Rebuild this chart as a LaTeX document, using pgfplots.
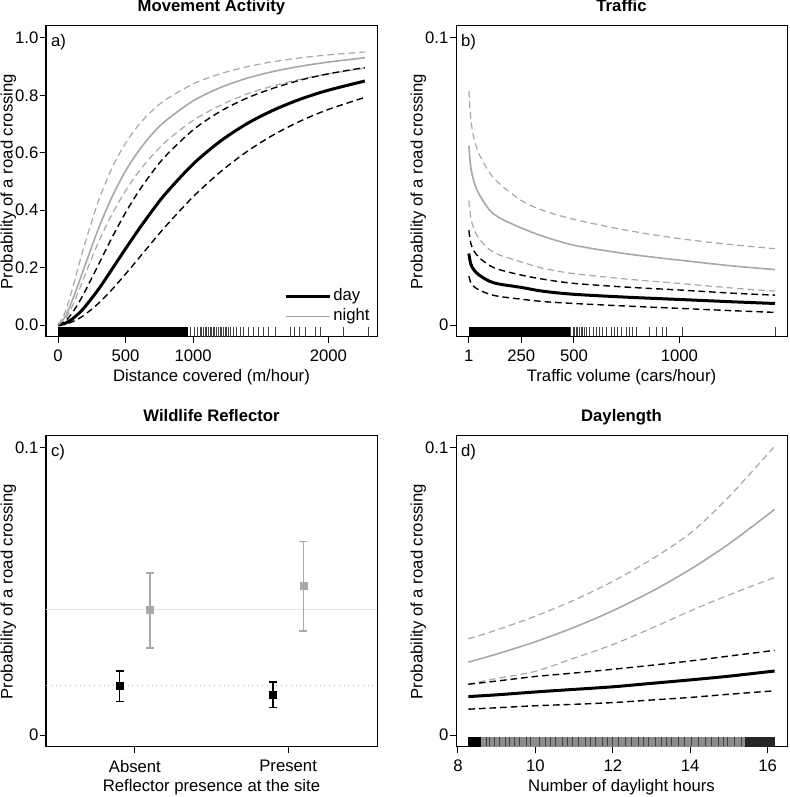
\documentclass[border=0pt]{standalone}
\usepackage{fontspec}
\setmainfont{Liberation Sans}
\usepackage{pgfplots}
\usepackage{pgfplotstable}
\pgfplotsset{compat=1.18}
\definecolor{rgray}{gray}{0.66}
\definecolor{hlgray}{gray}{0.9}
\newcommand{\rfont}{\fontsize{8.35pt}{10pt}\selectfont}
\pgfplotsset{
 rstyle/.style={
  scale only axis, width=165.5pt, height=155.5pt,
  axis line style={line width=0.5pt},
  tick align=outside, tick pos=left,
  major tick length=3pt,
  every tick/.append style={black, line width=0.5pt},
  font=\rfont,
  tick label style={font=\rfont},
  /pgf/number format/assume math mode=true,
  /pgf/number format/1000 sep={},
  yticklabel style={inner sep=0.6pt},
  xlabel style={at={(axis description cs:0.5,-0.128)}, anchor=center},
  ylabel style={at={(axis description cs:-0.114,0.5)}, anchor=center},
  title style={at={(axis description cs:0.5,1)}, anchor=base, yshift=1pt, font=\rfont\bfseries},
  ylabel={Probability of a road crossing},
 },
 dayci/.style={black, line width=0.7pt, dash pattern=on 3.3pt off 2pt},
 nightci/.style={rgray, line width=0.6pt, dash pattern=on 3.3pt off 2pt},
 daymid/.style={black, line width=1.5pt},
 nightmid/.style={rgray, line width=0.8pt},
 rug/.style={only marks, mark=|, mark options={line width=0.4pt, black!75}},
}
\pgfplotstableread{
x     dlo     d      dhi    nlo    n      nhi
0     0       0      0      0      0      0
50    0.0027  0.0055 0.0121 0.018  0.0271 0.0417
100   0.0101  0.0191 0.0389 0.060  0.0790 0.1167
150   0.0215  0.039  0.0751 0.115  0.142  0.2017
200   0.0366  0.064  0.1175 0.175  0.208  0.286
300   0.0758  0.125  0.211  0.290  0.337  0.433
400   0.124   0.195  0.305  0.386  0.447  0.548
500   0.178   0.266  0.392  0.468  0.537  0.634
600   0.234   0.335  0.468  0.536  0.609  0.699
700   0.291   0.400  0.534  0.592  0.667  0.748
800   0.346   0.460  0.591  0.640  0.713  0.786
1000  0.447   0.561  0.680  0.713  0.781  0.840
1200  0.533   0.640  0.744  0.765  0.827  0.875
1400  0.605   0.702  0.791  0.805  0.860  0.900
1600  0.664   0.750  0.826  0.834  0.884  0.918
1800  0.712   0.788  0.854  0.857  0.902  0.931
2000  0.751   0.818  0.875  0.875  0.916  0.941
2270  0.793   0.850  0.897  0.895  0.931  0.951
}\tabA
\pgfplotstableread{
x      dlo    d      dhi    nlo    n      nhi
1      0.0170 0.0249 0.0330 0.0434 0.0625 0.0816
10     0.0148 0.0213 0.0285 0.0375 0.0550 0.0720
25     0.0134 0.0192 0.0258 0.0335 0.0500 0.0650
50     0.0122 0.0174 0.0235 0.0300 0.0455 0.0595
100    0.0107 0.0152 0.0207 0.0262 0.0400 0.0530
150    0.0099 0.0142 0.0192 0.0243 0.0372 0.0490
250    0.0090 0.0131 0.0174 0.0220 0.0338 0.0434
350    0.0082 0.0118 0.0160 0.0198 0.0310 0.0400
500    0.0075 0.0107 0.0145 0.0179 0.0278 0.0368
750    0.0066 0.0097 0.0132 0.0160 0.0248 0.0330
1000   0.0058 0.0089 0.0122 0.0145 0.0226 0.0301
1250   0.0050 0.0081 0.0111 0.0129 0.0206 0.0280
1454   0.0044 0.0075 0.0104 0.0118 0.0193 0.0266
}\tabB
\pgfplotstableread{
x    y       ep      em
0.9  0.01724 0.0051  0.0055
1.9  0.0141  0.0044  0.0045
}\tabCday
\pgfplotstableread{
x    y       ep      em
1.1  0.0436  0.0129  0.0132
2.1  0.0518  0.0156  0.0156
}\tabCnight
\pgfplotstableread{
x      dlo    d      dhi    nlo    n      nhi
8.27   0.0090 0.0134 0.0177 0.0177 0.0254 0.0335
9      0.0095 0.0140 0.0188 0.0197 0.0282 0.0366
10     0.0102 0.0150 0.0204 0.0222 0.0325 0.0414
11     0.0107 0.0159 0.0216 0.0268 0.0375 0.0470
12     0.0113 0.0168 0.0229 0.0315 0.0433 0.0535
13     0.0122 0.0180 0.0243 0.0372 0.0500 0.0612
14     0.0131 0.0192 0.0258 0.0432 0.0577 0.0703
15     0.0142 0.0205 0.0275 0.0488 0.0666 0.0830
16.18  0.0154 0.0223 0.0295 0.0549 0.0786 0.1006
}\tabD
\begin{document}
\begin{tikzpicture}
\useasboundingbox (0,0) rectangle (394.5pt,398.5pt);
% ---------------- a) ----------------
\begin{axis}[rstyle, at={(23pt,230pt)}, anchor=south west,
  xmin=-89, xmax=2360, ymin=-0.0417, ymax=1.0417,
  xtick={0,500,1000,2000},
  ytick={0,0.2,0.4,0.6,0.8,1}, yticklabels={0.0,0.2,0.4,0.6,0.8,1.0},
  xlabel={Distance covered (m/hour)}, title={Movement Activity},
  legend style={draw=none, fill=none, at={(rel axis cs:1,0)}, anchor=south east,
    xshift=-2.5pt, yshift=5pt, inner sep=0pt, row sep=0pt, column sep=0pt,
    nodes={inner sep=1pt, text height=6.2pt, text depth=1.8pt, font=\rfont}},
  legend cell align=left,
  legend image code/.code={\draw[#1] (0pt,0pt) -- (16pt,0pt); \path (16pt,0pt) -- (22pt,0pt);},
]
\addplot[fill=black, draw=none, forget plot] coordinates {(0,-0.0417) (965,-0.0417) (965,-0.007) (0,-0.007)} --cycle;
\addplot[rug, mark size=2.5pt, forget plot] coordinates {
(981,-0.0243) (1010,-0.0243) (1030,-0.0243) (1050,-0.0243) (1060,-0.0243) (1075,-0.0243) (1088,-0.0243) (1100,-0.0243)
(1112,-0.0243) (1124,-0.0243) (1137,-0.0243) (1149,-0.0243) (1160,-0.0243) (1174,-0.0243) (1186,-0.0243) (1198,-0.0243)
(1210,-0.0243) (1223,-0.0243) (1235,-0.0243) (1248,-0.0243) (1260,-0.0243) (1272,-0.0243) (1297,-0.0243) (1322,-0.0243)
(1346,-0.0243) (1371,-0.0243) (1408,-0.0243) (1445,-0.0243) (1481,-0.0243) (1519,-0.0243) (1556,-0.0243) (1605,-0.0243)
(1716,-0.0243) (1746,-0.0243) (1785,-0.0243) (1827,-0.0243) (1901,-0.0243) (1938,-0.0243) (2110,-0.0243) (2300,-0.0243)};
\addplot[nightci, smooth, forget plot] table[x=x, y=nlo] {\tabA};
\addplot[nightci, smooth, forget plot] table[x=x, y=nhi] {\tabA};
\addplot[dayci, smooth, forget plot] table[x=x, y=dlo] {\tabA};
\addplot[dayci, smooth, forget plot] table[x=x, y=dhi] {\tabA};
\addplot[daymid, smooth] table[x=x, y=d] {\tabA};
\addlegendentry{day}
\addplot[nightmid, smooth] table[x=x, y=n] {\tabA};
\addlegendentry{night}
\node[anchor=north west, inner sep=0pt] at (rel axis cs:0,1) [xshift=2.3pt, yshift=-4.2pt] {a)};
\end{axis}
% ---------------- b) ----------------
\begin{axis}[rstyle, at={(228pt,230pt)}, anchor=south west,
  xmin=-60, xmax=1511, ymin=-0.00417, ymax=0.10417,
  xtick={1,250,500,1000},
  ytick={0,0.1}, yticklabels={0,0.1},
  xlabel={Traffic volume (cars/hour)}, title={Traffic},
]
\addplot[fill=black, draw=none] coordinates {(1,-0.00417) (480,-0.00417) (480,-0.0007) (1,-0.0007)} --cycle;
\addplot[rug, mark size=2.2pt] coordinates {
(485,-0.00233) (495,-0.00233) (503,-0.00233) (511,-0.00233) (518,-0.00233) (526,-0.00233) (534,-0.00233) (542,-0.00233)
(550,-0.00233) (558,-0.00233) (574,-0.00233) (590,-0.00233) (605,-0.00233) (621,-0.00233) (637,-0.00233) (653,-0.00233)
(676,-0.00233) (692,-0.00233) (708,-0.00233) (724,-0.00233) (747,-0.00233) (763,-0.00233) (779,-0.00233) (795,-0.00233)
(858,-0.00233) (889,-0.00233) (921,-0.00233) (937,-0.00233) (1016,-0.00233) (1454,-0.00233)};
\addplot[nightci, smooth] table[x=x, y=nlo] {\tabB};
\addplot[nightci, smooth] table[x=x, y=nhi] {\tabB};
\addplot[dayci, smooth] table[x=x, y=dlo] {\tabB};
\addplot[dayci, smooth] table[x=x, y=dhi] {\tabB};
\addplot[daymid, smooth] table[x=x, y=d] {\tabB};
\addplot[nightmid, smooth] table[x=x, y=n] {\tabB};
\node[anchor=north west, inner sep=0pt] at (rel axis cs:0,1) [xshift=2.3pt, yshift=-4.2pt] {b)};
\end{axis}
% ---------------- c) ----------------
\begin{axis}[rstyle, at={(23pt,25pt)}, anchor=south west,
  xmin=0.42, xmax=2.58, ymin=-0.00417, ymax=0.10417,
  xtick={1,2}, xticklabels={Absent,Present},
  ytick={0,0.1}, yticklabels={0,0.1},
  xlabel={Reflector presence at the site}, title={Wildlife Reflector},
]
\addplot[hlgray, line width=0.4pt] coordinates {(0.42,0.0436) (2.58,0.0436)};
\addplot[hlgray!80!black, line width=0.4pt, dotted] coordinates {(0.42,0.01724) (2.58,0.01724)};
\addplot[only marks, mark=square*, mark size=1.75pt, black,
  error bars/.cd, y dir=both, y explicit, error mark=-,
  error bar style={line width=0.75pt, black},
  error mark options={rotate=90, line width=0.75pt, mark size=2pt, black}]
  table[x=x, y=y, y error plus=ep, y error minus=em] {\tabCday};
\addplot[only marks, mark=square*, mark size=1.75pt, rgray,
  error bars/.cd, y dir=both, y explicit, error mark=-,
  error bar style={line width=0.75pt, rgray},
  error mark options={rotate=90, line width=0.75pt, mark size=2pt, rgray}]
  table[x=x, y=y, y error plus=ep, y error minus=em] {\tabCnight};
\node[anchor=north west, inner sep=0pt] at (rel axis cs:0,1) [xshift=2.3pt, yshift=-4.2pt] {c)};
\end{axis}
% ---------------- d) ----------------
\begin{axis}[rstyle, at={(228pt,25pt)}, anchor=south west,
  xmin=7.95, xmax=16.5, ymin=-0.00417, ymax=0.10417,
  xtick={8,10,12,14,16},
  ytick={0,0.1}, yticklabels={0,0.1},
  xlabel={Number of daylight hours}, title={Daylength},
]
\addplot[fill=black!45, draw=none] coordinates {(8.27,-0.00417) (16.18,-0.00417) (16.18,-0.0008) (8.27,-0.0008)} --cycle;
\addplot[fill=black, draw=none] coordinates {(8.27,-0.00417) (8.6,-0.00417) (8.6,-0.0008) (8.27,-0.0008)} --cycle;
\addplot[fill=black!85, draw=none] coordinates {(15.42,-0.00417) (16.18,-0.00417) (16.18,-0.0008) (15.42,-0.0008)} --cycle;
\addplot[rug, mark size=2.2pt] coordinates {
(8.74,-0.00232) (8.81,-0.00232) (8.94,-0.00232) (9.07,-0.00232) (9.22,-0.00232) (9.33,-0.00232) (9.46,-0.00232) (9.58,-0.00232)
(9.76,-0.00232) (9.88,-0.00232) (10.10,-0.00232) (10.27,-0.00232) (10.40,-0.00232) (10.53,-0.00232) (10.70,-0.00232) (10.82,-0.00232)
(10.95,-0.00232) (11.12,-0.00232) (11.30,-0.00232) (11.42,-0.00232) (11.55,-0.00232) (11.72,-0.00232) (11.85,-0.00232) (11.98,-0.00232)
(12.15,-0.00232) (12.32,-0.00232) (12.49,-0.00232) (12.66,-0.00232) (12.79,-0.00232) (12.92,-0.00232) (13.09,-0.00232) (13.26,-0.00232)
(13.39,-0.00232) (13.52,-0.00232) (13.69,-0.00232) (13.86,-0.00232) (14.03,-0.00232) (14.20,-0.00232) (14.38,-0.00232) (14.55,-0.00232)
(14.72,-0.00232) (14.85,-0.00232) (14.97,-0.00232) (15.15,-0.00232) (15.32,-0.00232)};
\addplot[nightci, smooth] table[x=x, y=nlo] {\tabD};
\addplot[nightci, smooth] table[x=x, y=nhi] {\tabD};
\addplot[dayci, smooth] table[x=x, y=dlo] {\tabD};
\addplot[dayci, smooth] table[x=x, y=dhi] {\tabD};
\addplot[daymid, smooth] table[x=x, y=d] {\tabD};
\addplot[nightmid, smooth] table[x=x, y=n] {\tabD};
\node[anchor=north west, inner sep=0pt] at (rel axis cs:0,1) [xshift=2.3pt, yshift=-4.2pt] {d)};
\end{axis}
\end{tikzpicture}
\end{document}
